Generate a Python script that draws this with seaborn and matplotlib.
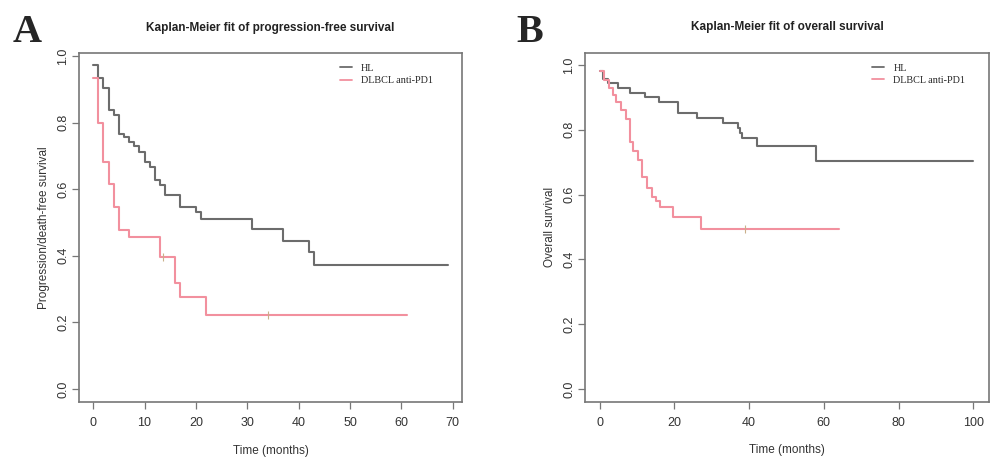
import numpy as np
import pandas as pd
import matplotlib
matplotlib.use('Agg')
import matplotlib.pyplot as plt
import seaborn as sns

# Kaplan-Meier step values
# Panel A: progression-free survival
hl_pfs_time = [0, 1, 2, 3, 4, 5, 6, 7, 8, 9, 10, 11, 12, 13, 14, 17, 20, 21, 31, 37, 42, 43]
hl_pfs_surv = [0.973, 0.933, 0.904, 0.838, 0.823, 0.767, 0.756, 0.743, 0.729, 0.712, 0.683,
               0.668, 0.628, 0.613, 0.583, 0.548, 0.533, 0.511, 0.479, 0.445, 0.41, 0.372]
hl_pfs_end = 69

dl_pfs_time = [0, 1, 2, 3, 4, 5, 7, 13, 16, 17, 22]
dl_pfs_surv = [0.933, 0.798, 0.681, 0.615, 0.547, 0.478, 0.455, 0.397, 0.317, 0.277, 0.221]
dl_pfs_end = 61
dl_pfs_censor = [13.5, 34]

# Panel B: overall survival
hl_os_time = [0, 0.9, 2.3, 5, 8, 12, 16, 21, 26, 33, 37, 37.6, 38.2, 42, 58]
hl_os_surv = [0.982, 0.958, 0.944, 0.928, 0.915, 0.9, 0.885, 0.853, 0.838, 0.82,
              0.805, 0.79, 0.776, 0.751, 0.703]
hl_os_end = 100

dl_os_time = [0, 1.2, 2.4, 3.5, 4.5, 5.6, 7, 8, 9, 10.3, 11.3, 12.6, 14, 15.2, 16.1, 19.7, 27]
dl_os_surv = [0.982, 0.955, 0.93, 0.908, 0.885, 0.86, 0.833, 0.762, 0.735, 0.708, 0.653,
              0.621, 0.592, 0.58, 0.561, 0.53, 0.494]
dl_os_end = 64
dl_os_censor = [39]

groups = ['HL', 'DLBCL anti-PD1']
colors = {'HL': '#6c6c6c', 'DLBCL anti-PD1': '#f2909e'}


def km_frame(time, surv, end, group):
    # add the last follow-up point so the final step is drawn
    t = list(time) + [end]
    s = list(surv) + [surv[-1]]
    return pd.DataFrame({'time': t, 'surv': s, 'group': group})


def step_at(time, surv, t):
    idx = np.searchsorted(time, t, side='right') - 1
    return surv[idx]


sns.set_style('white')
plt.rcParams['font.family'] = ['Liberation Sans', 'DejaVu Sans']
plt.rcParams['axes.edgecolor'] = '#777777'
plt.rcParams['axes.linewidth'] = 1.2

fig = plt.figure(figsize=(9.91, 4.57), dpi=100)
ax_a = fig.add_axes([0.0797, 0.1204, 0.3865, 0.7636])
ax_b = fig.add_axes([0.5903, 0.121, 0.4077, 0.7637])

panels = [
    (ax_a, km_frame(hl_pfs_time, hl_pfs_surv, hl_pfs_end, 'HL'),
     km_frame(dl_pfs_time, dl_pfs_surv, dl_pfs_end, 'DLBCL anti-PD1'),
     dl_pfs_time, dl_pfs_surv, dl_pfs_censor,
     'Kaplan-Meier fit of progression-free survival', 'Progression/death-free survival',
     np.arange(0, 71, 10), (-2.76, 71.8), (-0.039, 1.009), 0.657, 'A', 0.027),
    (ax_b, km_frame(hl_os_time, hl_os_surv, hl_os_end, 'HL'),
     km_frame(dl_os_time, dl_os_surv, dl_os_end, 'DLBCL anti-PD1'),
     dl_os_time, dl_os_surv, dl_os_censor,
     'Kaplan-Meier fit of overall survival', 'Overall survival',
     np.arange(0, 101, 20), (-3.93, 104.2), (-0.039, 1.038), 0.688, 'B', 0.535),
]

for (ax, df_hl, df_dl, dt, ds, cens, title, ylab, xt, xlim, ylim, leg_x, letter, lx) in panels:
    df = pd.concat([df_hl, df_dl], ignore_index=True)
    sns.lineplot(data=df, x='time', y='surv', hue='group', hue_order=groups,
                 palette=colors, drawstyle='steps-post', estimator=None,
                 linewidth=1.5, ax=ax)
    # censoring marks
    cens_df = pd.DataFrame({'time': cens,
                            'surv': [step_at(dt, ds, c) for c in cens]})
    sns.scatterplot(data=cens_df, x='time', y='surv', marker='|', s=30,
                    color='#c9b08a', linewidth=0.8, ax=ax, zorder=3)

    ax.set_xlim(*xlim)
    ax.set_ylim(*ylim)
    ax.set_xticks(xt)
    ax.set_yticks(np.arange(0, 1.01, 0.2))
    ax.set_yticklabels([f'{v:.1f}' for v in np.arange(0, 1.01, 0.2)],
                       rotation=90, va='center')
    ax.tick_params(axis='both', bottom=True, left=True, direction='out', length=5,
                   width=0.9, color='#777777', labelsize=9, labelcolor='#333333', pad=2)
    ax.tick_params(axis='x', pad=6)
    for sp in ax.spines.values():
        sp.set_visible(True)
    ax.set_xlabel('Time (months)', fontsize=8.5, color='#333333', labelpad=11)
    ax.set_ylabel(ylab, fontsize=8.5, color='#333333', labelpad=5)
    ax.set_title(title, fontsize=8.5, fontweight='bold', color='#222222', pad=16)

    leg = ax.legend(loc='upper left', bbox_to_anchor=(leg_x, 0.995), frameon=False,
                    handlelength=1.2, handletextpad=0.9, labelspacing=0.3,
                    prop={'family': 'Liberation Serif', 'size': 7.3})
    for line in leg.get_lines():
        line.set_linewidth(1.3)

    fig.text(lx, 0.928, letter, fontsize=29, fontweight='bold',
             family='Liberation Serif', ha='center', va='center')

fig.savefig('out.png', dpi=100)
